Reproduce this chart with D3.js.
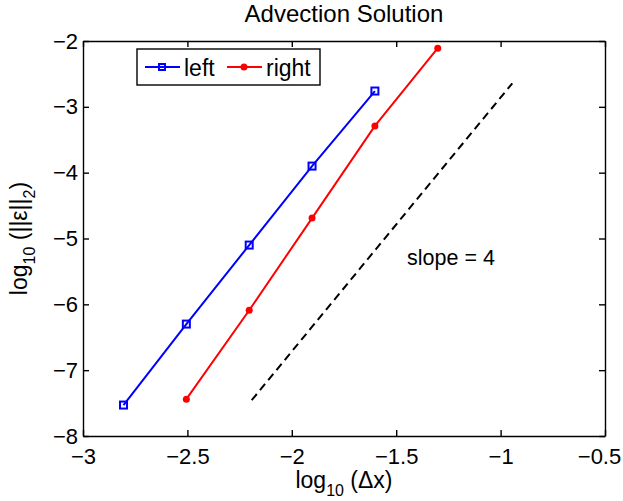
<!DOCTYPE html>
<html>
<head>
  <meta charset="utf-8">
  <title>Advection Solution</title>
  <script src="https://d3js.org/d3.v7.min.js"></script>
  <style>
    body { margin: 0; background: #fff; }
    text { font-family: "Liberation Sans", Arial, sans-serif; fill: #000; }
    .axis path, .axis line { stroke: #000; stroke-width: 1.4; }
    .axis text { font-size: 22px; }
  </style>
</head>
<body>
  <svg width="623" height="501"></svg>

  <script>
    // data (log10 values)
    var leftX = [-2.806, -2.505, -2.204, -1.903, -1.602];
    var leftY = [-7.53, -6.30, -5.10, -3.90, -2.76];
    var rightX = [-2.505, -2.204, -1.903, -1.602, -1.301];
    var rightY = [-7.44, -6.09, -4.69, -3.29, -2.11];
    var slopeX = [-2.192, -0.944];
    var slopeY = [-7.456, -2.643];
    var xTicks = [-3, -2.5, -2, -1.5, -1, -0.5];
    var yTicks = [-8, -7, -6, -5, -4, -3, -2];

    var margin = { top: 41, right: 18, bottom: 65, left: 83 };
    var width = 623 - margin.left - margin.right;
    var height = 501 - margin.top - margin.bottom;

    var x = d3.scaleLinear().domain([-3, -0.5]).range([0, width]);
    var y = d3.scaleLinear().domain([-8, -2]).range([height, 0]);

    var svg = d3.select("svg");
    var g = svg.append("g")
      .attr("transform", "translate(" + margin.left + "," + margin.top + ")");

    var fmt = function(d) { return String(d).replace("-", "\u2212"); };

    // axes on all four sides, ticks pointing inward
    var xAxis = g.append("g").attr("class", "axis")
      .attr("transform", "translate(0," + height + ")")
      .call(d3.axisBottom(x).tickValues(xTicks).tickFormat(fmt).tickSizeInner(-6).tickSizeOuter(0).tickPadding(12));
    // last label sits at the window edge; nudge it in so it stays readable
    xAxis.selectAll(".tick text").filter(function(d) { return d === -0.5; }).attr("dx", -6);
    g.append("g").attr("class", "axis")
      .call(d3.axisTop(x).tickValues(xTicks).tickFormat("").tickSizeInner(-6).tickSizeOuter(0));
    g.append("g").attr("class", "axis")
      .call(d3.axisLeft(y).tickValues(yTicks).tickFormat(fmt).tickSizeInner(-6).tickSizeOuter(0).tickPadding(5));
    g.append("g").attr("class", "axis")
      .attr("transform", "translate(" + width + ",0)")
      .call(d3.axisRight(y).tickValues(yTicks).tickFormat("").tickSizeInner(-6).tickSizeOuter(0));

    var line = d3.line()
      .x(function(d) { return x(d[0]); })
      .y(function(d) { return y(d[1]); });

    var leftPts = d3.zip(leftX, leftY);
    var rightPts = d3.zip(rightX, rightY);

    g.append("path").datum(leftPts).attr("d", line)
      .attr("fill", "none").attr("stroke", "#0000ff").attr("stroke-width", 2);
    g.selectAll(".sq").data(leftPts).enter().append("rect")
      .attr("x", function(d) { return x(d[0]) - 3.5; })
      .attr("y", function(d) { return y(d[1]) - 3.5; })
      .attr("width", 7).attr("height", 7)
      .attr("fill", "none").attr("stroke", "#0000ff").attr("stroke-width", 2);

    g.append("path").datum(rightPts).attr("d", line)
      .attr("fill", "none").attr("stroke", "#ff0000").attr("stroke-width", 2);
    g.selectAll(".dot").data(rightPts).enter().append("circle")
      .attr("cx", function(d) { return x(d[0]); })
      .attr("cy", function(d) { return y(d[1]); })
      .attr("r", 3.5).attr("fill", "#ff0000");

    g.append("path").datum(d3.zip(slopeX, slopeY)).attr("d", line)
      .attr("fill", "none").attr("stroke", "#000").attr("stroke-width", 2)
      .attr("stroke-dasharray", "8,5");

    g.append("text")
      .attr("x", x(-1.448)).attr("y", y(-5.40))
      .style("font-size", "21.5px")
      .text("slope = 4");

    // legend
    var lg = svg.append("g").attr("transform", "translate(137,49)");
    lg.append("rect").attr("width", 183).attr("height", 36)
      .attr("fill", "#fff").attr("stroke", "#000").attr("stroke-width", 1.4);
    lg.append("line").attr("x1", 8).attr("x2", 43).attr("y1", 18).attr("y2", 18)
      .attr("stroke", "#0000ff").attr("stroke-width", 2);
    lg.append("rect").attr("x", 22).attr("y", 15).attr("width", 6).attr("height", 6)
      .attr("fill", "none").attr("stroke", "#0000ff").attr("stroke-width", 2);
    lg.append("text").attr("x", 47).attr("y", 27).style("font-size", "23px").text("left");
    lg.append("line").attr("x1", 90).attr("x2", 125).attr("y1", 18).attr("y2", 18)
      .attr("stroke", "#ff0000").attr("stroke-width", 2);
    lg.append("circle").attr("cx", 107).attr("cy", 18).attr("r", 3.5).attr("fill", "#ff0000");
    lg.append("text").attr("x", 129).attr("y", 27).style("font-size", "23px").text("right");

    // title
    svg.append("text").attr("x", margin.left + width / 2).attr("y", 22)
      .attr("text-anchor", "middle").style("font-size", "24px")
      .text("Advection Solution");

    // x label
    var xl = svg.append("text").attr("x", margin.left + width / 2).attr("y", 488)
      .attr("text-anchor", "middle").style("font-size", "23px");
    xl.append("tspan").text("log");
    xl.append("tspan").attr("dy", 8).style("font-size", "16px").text("10");
    xl.append("tspan").attr("dy", -8).text(" (\u0394x)");

    // y label
    var yl = svg.append("text")
      .attr("transform", "translate(27," + (margin.top + height / 2) + ") rotate(-90)")
      .attr("text-anchor", "middle").style("font-size", "23px");
    yl.append("tspan").text("log");
    yl.append("tspan").attr("dy", 8).style("font-size", "16px").text("10");
    yl.append("tspan").attr("dy", -8).text(" (||\u03b5||");
    yl.append("tspan").attr("dy", 8).style("font-size", "16px").text("2");
    yl.append("tspan").attr("dy", -8).text(")");
  </script>
</body>
</html>
